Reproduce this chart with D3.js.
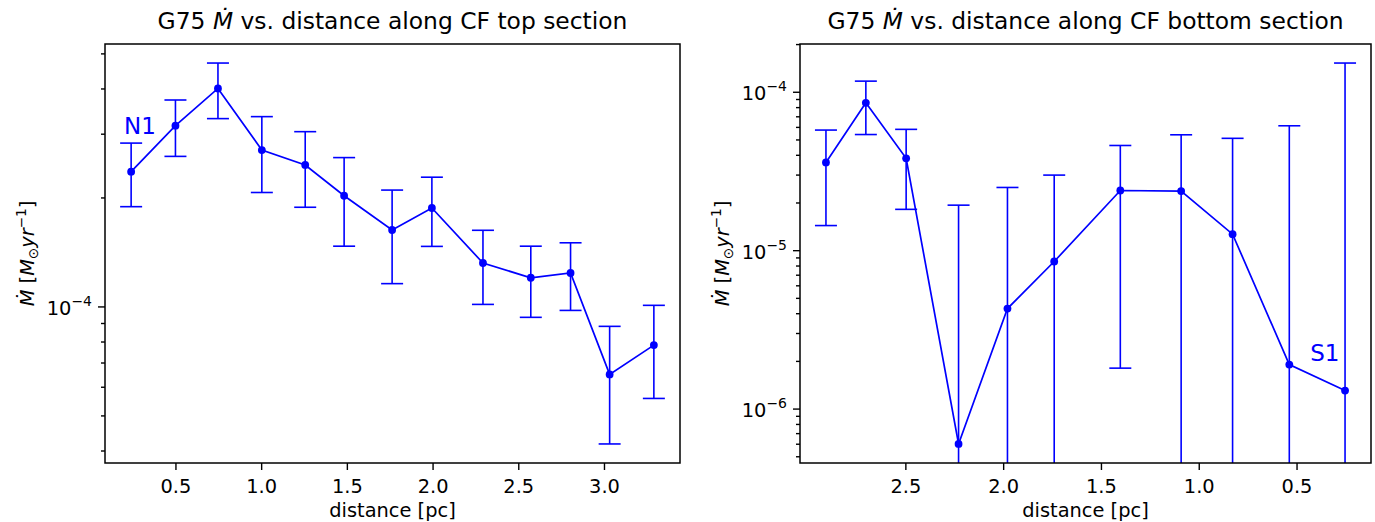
<!DOCTYPE html>
<html>
<head>
<meta charset="utf-8">
<script src="https://cdn.jsdelivr.net/npm/d3@7"></script>
<style>
  html, body { margin: 0; padding: 0; background: #ffffff; }
  svg { display: block; font-family: "DejaVu Sans", sans-serif; }
</style>
</head>
<body>
<svg id="chart" width="1375" height="522"></svg>
<script>
// ---------------- data ----------------
// top section: distance [pc], Mdot [Msun/yr], error
const topDistance = [0.2415, 0.5, 0.748, 1.004, 1.257, 1.484, 1.764, 1.996, 2.294, 2.573, 2.805, 3.033, 3.291];
const topMdot     = [2.356e-4, 3.157e-4, 4.002e-4, 2.704e-4, 2.459e-4, 2.022e-4, 1.626e-4, 1.870e-4, 1.318e-4, 1.200e-4, 1.237e-4, 0.649e-4, 0.782e-4];
const topErr      = [0.47e-4, 0.56e-4, 0.70e-4, 0.64e-4, 0.58e-4, 0.555e-4, 0.47e-4, 0.405e-4, 0.305e-4, 0.267e-4, 0.262e-4, 0.232e-4, 0.225e-4];

// bottom section
const botDistance = [2.906, 2.702, 2.496, 2.228, 1.978, 1.739, 1.401, 1.090, 0.827, 0.537, 0.252];
const botMdot     = [3.58e-5, 8.52e-5, 3.80e-5, 5.98e-7, 4.28e-6, 8.48e-6, 2.38e-5, 2.36e-5, 1.262e-5, 1.896e-6, 1.30e-6];
const botErr      = [2.15e-5, 3.15e-5, 1.99e-5, 1.864e-5, 2.06e-5, 2.13e-5, 2.2e-5, 2.99e-5, 3.82e-5, 5.91e-5, 1.505e-4];

const topXTicks = [0.5, 1.0, 1.5, 2.0, 2.5, 3.0];
const botXTicks = [2.5, 2.0, 1.5, 1.0, 0.5];

const topTitleText = ["G75 ", "Ṁ", " vs. distance along CF top section"];
const botTitleText = ["G75 ", "Ṁ", " vs. distance along CF bottom section"];
const xLabelText = "distance [pc]";
const topAnnot = {label: "N1", x: 0.2, y: 3.0e-4};
const botAnnot = {label: "S1", x: 0.43, y: 2.0e-6};

// ---------------- drawing ----------------
const svg = d3.select("#chart");
const BLUE = "#0000ff";
const TICK_FS = 19.4;
const TITLE_FS = 23.4;
const ANNOT_FS = 23;

function panel(cfg) {
  const {xs, vs, es, box, reverse, xticks, title, annot, id} = cfg;
  const [L, R, T, B] = box;

  const xExt = d3.extent(xs);
  const xPad = (xExt[1] - xExt[0]) * 0.05;
  const xDom = [xExt[0] - xPad, xExt[1] + xPad];
  const x = d3.scaleLinear().domain(reverse ? [xDom[1], xDom[0]] : xDom).range([L, R]);

  const yVals = [];
  vs.forEach((v, i) => {
    yVals.push(v, v + es[i]);
    if (v - es[i] > 0) yVals.push(v - es[i]);
  });
  const lo = Math.log10(d3.min(yVals)), hi = Math.log10(d3.max(yVals));
  const yPad = (hi - lo) * 0.05;
  const y = d3.scaleLog().domain([Math.pow(10, lo - yPad), Math.pow(10, hi + yPad)]).range([B, T]);

  const g = svg.append("g");

  // clip
  svg.append("clipPath").attr("id", "clip" + id)
    .append("rect").attr("x", L).attr("y", T).attr("width", R - L).attr("height", B - T);
  const plot = g.append("g").attr("clip-path", `url(#clip${id})`);

  // error bars
  const yBottomPix = B + 20;
  const eb = plot.append("g");
  xs.forEach((xv, i) => {
    const cx = x(xv);
    const top = y(vs[i] + es[i]);
    const lowV = vs[i] - es[i];
    const bot = lowV > 0 ? y(lowV) : yBottomPix;
    eb.append("line").attr("x1", cx).attr("x2", cx).attr("y1", top).attr("y2", bot)
      .attr("stroke", BLUE).attr("stroke-width", 1.6);
    eb.append("line").attr("x1", cx - 11).attr("x2", cx + 11).attr("y1", top).attr("y2", top)
      .attr("stroke", BLUE).attr("stroke-width", 1.6);
    if (lowV > 0) {
      eb.append("line").attr("x1", cx - 11).attr("x2", cx + 11).attr("y1", bot).attr("y2", bot)
        .attr("stroke", BLUE).attr("stroke-width", 1.6);
    }
  });

  // line
  const line = d3.line().x((d, i) => x(xs[i])).y((d, i) => y(vs[i]));
  plot.append("path").datum(vs).attr("d", line)
    .attr("fill", "none").attr("stroke", BLUE).attr("stroke-width", 1.7);

  // markers
  plot.selectAll("circle.m").data(vs).enter().append("circle")
    .attr("cx", (d, i) => x(xs[i])).attr("cy", d => y(d)).attr("r", 3.9).attr("fill", BLUE);

  // annotation
  g.append("text").attr("x", x(annot.x)).attr("y", y(annot.y))
    .attr("fill", BLUE).attr("font-size", ANNOT_FS).text(annot.label);

  // x axis
  const xa = g.append("g").attr("transform", `translate(0,${B})`)
    .call(d3.axisBottom(x).tickValues(xticks).tickFormat(d3.format(".1f")).tickSizeOuter(0).tickSize(7).tickPadding(9));
  xa.select(".domain").remove();
  xa.selectAll(".tick line").attr("stroke", "#000").attr("stroke-width", 1.4);
  xa.selectAll(".tick text").attr("font-size", TICK_FS).attr("fill", "#000")
    .attr("font-family", "DejaVu Sans");

  // y axis (log with minor ticks)
  const yt = y.ticks().filter(t => y(t) >= T - 0.5 && y(t) <= B + 0.5);
  const isMajor = t => Math.abs(Math.log10(t) - Math.round(Math.log10(t))) < 1e-9;
  const ya = g.append("g").attr("transform", `translate(${L},0)`)
    .call(d3.axisLeft(y).tickValues(yt).tickFormat("").tickSizeOuter(0).tickSize(7));
  ya.select(".domain").remove();
  ya.selectAll(".tick line").attr("stroke", "#000").attr("stroke-width", 1.4)
    .attr("x2", d => isMajor(d) ? -7 : -4);
  ya.selectAll(".tick").each(function(d) {
    if (!isMajor(d)) return;
    const e = Math.round(Math.log10(d));
    const t = d3.select(this).append("text")
      .attr("x", -13).attr("y", 8).attr("text-anchor", "end")
      .attr("fill", "#000").attr("font-size", TICK_FS).attr("font-family", "DejaVu Sans");
    t.append("tspan").text("10");
    t.append("tspan").attr("dy", -9).attr("font-size", TICK_FS * 0.72).text("\u2212" + Math.abs(e));
  });

  // frame
  g.append("rect").attr("x", L).attr("y", T).attr("width", R - L).attr("height", B - T)
    .attr("fill", "none").attr("stroke", "#000").attr("stroke-width", 1.5);

  // title
  const tt = g.append("text").attr("x", (L + R) / 2).attr("y", 29).attr("text-anchor", "middle")
    .attr("font-size", TITLE_FS).attr("fill", "#000");
  tt.append("tspan").text(title[0]);
  tt.append("tspan").attr("font-style", "italic").text(title[1]);
  tt.append("tspan").text(title[2]);

  // x label
  g.append("text").attr("x", (L + R) / 2).attr("y", 517).attr("text-anchor", "middle")
    .attr("font-size", TICK_FS).attr("fill", "#000").text(xLabelText);

  // y label
  const yl = g.append("text")
    .attr("transform", `translate(${L - 71},${(T + B) / 2}) rotate(-90)`)
    .attr("text-anchor", "middle").attr("font-size", TICK_FS).attr("fill", "#000");
  yl.append("tspan").attr("font-style", "italic").text("Ṁ");
  yl.append("tspan").text(" [");
  yl.append("tspan").attr("font-style", "italic").text("M");
  yl.append("tspan").attr("dy", 4).attr("font-size", TICK_FS * 0.7).text("\u2299");
  yl.append("tspan").attr("dy", -4).attr("font-style", "italic").text("yr");
  yl.append("tspan").attr("dy", -8).attr("font-size", TICK_FS * 0.7).text("\u22121");
  yl.append("tspan").attr("dy", 8).text("]");
}

panel({id: 1, xs: topDistance, vs: topMdot, es: topErr, box: [105, 680, 44, 463],
       reverse: false, xticks: topXTicks, title: topTitleText, annot: topAnnot});
panel({id: 2, xs: botDistance, vs: botMdot, es: botErr, box: [800, 1371, 44, 463],
       reverse: true, xticks: botXTicks, title: botTitleText, annot: botAnnot});
</script>
</body>
</html>
